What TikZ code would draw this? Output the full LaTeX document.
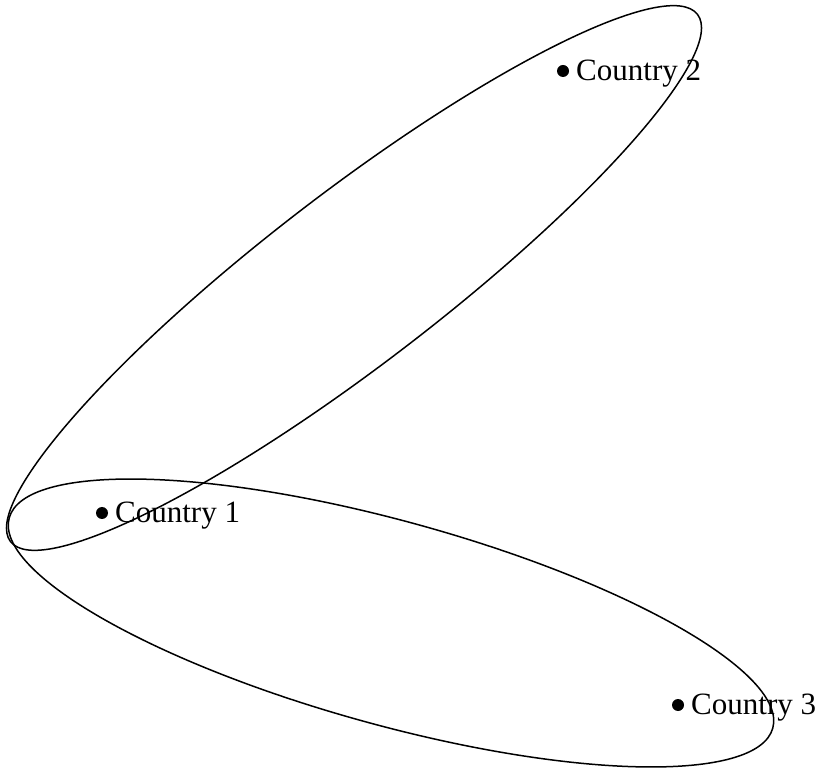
\documentclass[tikz,border=0pt]{standalone}
\usepackage{fontspec}
\setmainfont{Liberation Serif}
\usepackage{tikz}
\usetikzlibrary{shapes.geometric, positioning}

\begin{document}
\begin{tikzpicture}[x=1pt, y=1pt,
    dot/.style={circle, fill=black, minimum size=12pt, inner sep=0pt},
    country/.style={anchor=base west, inner sep=0pt, font=\fontsize{31}{36}\selectfont},
    group/.style={ellipse, draw=black, line width=1.5pt, inner sep=0pt}]
  \useasboundingbox (0,0) rectangle (822,769);
  % grouping ellipses
  \node[group, minimum width=866pt, minimum height=172pt, rotate=37.5]
    (grp12) at (354,491) {};
  \node[group, minimum width=792pt, minimum height=204pt, rotate=-15.4]
    (grp13) at (391,146) {};
  % countries
  \node[dot] (c1) at (102,256) {};
  \node[dot] (c2) at (563,698) {};
  \node[dot] (c3) at (678,64) {};
  \node[country] (lbl1) at ([xshift=13pt, yshift=-9.7pt]c1.center) {Country 1};
  \node[country] (lbl2) at ([xshift=13pt, yshift=-9.7pt]c2.center) {Country 2};
  \node[country] (lbl3) at ([xshift=13pt, yshift=-9.7pt]c3.center) {Country 3};
\end{tikzpicture}
\end{document}
